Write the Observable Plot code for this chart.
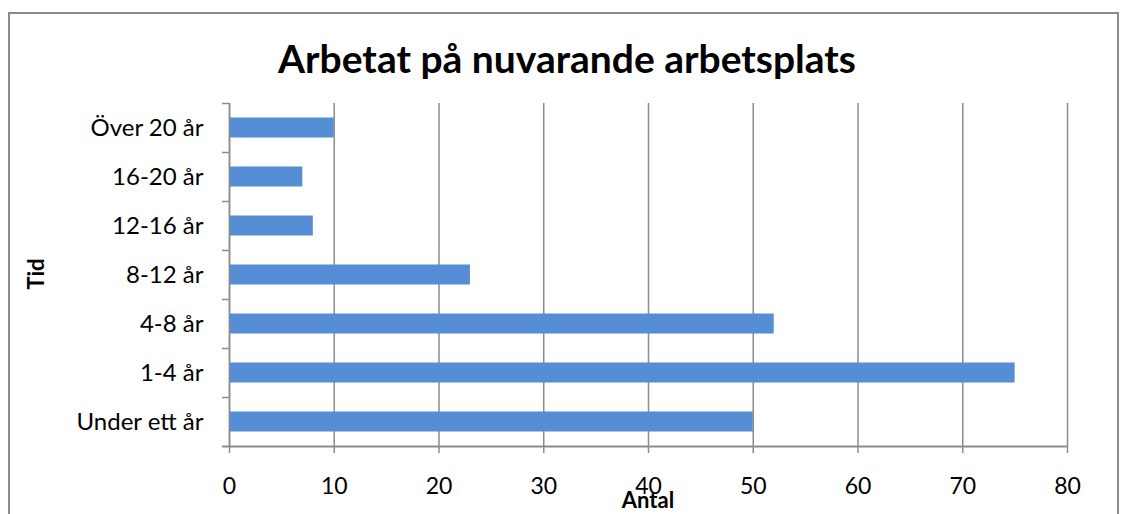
<!DOCTYPE html>
<html>
<head>
<meta charset="utf-8">
<script src="https://cdn.jsdelivr.net/npm/d3@7"></script>
<script src="https://cdn.jsdelivr.net/npm/@observablehq/plot@0.6"></script>
<style>
  html, body { margin: 0; padding: 0; background: #fff; }
  body { width: 1123px; height: 514px; overflow: hidden; position: relative; font-family: Lato, "Open Sans", sans-serif; }
  #frame { position: absolute; left: 8px; top: 12px; width: 1111px; height: 520px; border: 2px solid #8a8a8a; box-sizing: border-box; }
  #title { position: absolute; left: 0; width: 1134px; top: 35px; text-align: center; font-weight: bold; font-size: 39px; color: #000; }
  #ylabel { position: absolute; left: 35px; top: 274px; transform: translate(-50%, -50%) rotate(-90deg); font-weight: bold; font-size: 22px; }
  #xlabel { position: absolute; left: 648px; top: 486px; transform: translateX(-50%); font-weight: bold; font-size: 22px; }
  #chart { position: absolute; left: 0; top: 0; }
</style>
</head>
<body>
<div id="frame"></div>
<div id="chart"></div>
<div id="title">Arbetat på nuvarande arbetsplats</div>
<div id="ylabel">Tid</div>
<div id="xlabel">Antal</div>
<script>
const categories = ["Över 20 år", "16-20 år", "12-16 år", "8-12 år", "4-8 år", "1-4 år", "Under ett år"];
const values = [10, 7, 8, 23, 52, 75, 50];
const xTicks = [0, 10, 20, 30, 40, 50, 60, 70, 80];

const data = categories.map((c, i) => ({category: c, value: values[i]}));
const gray = "#8c8c8c";
const W = 1123, H = 514, mL = 229, mR = 56, mT = 103, mB = 68;
const step = (H - mT - mB) / categories.length;

const chart = Plot.plot({
  width: W,
  height: H,
  marginLeft: mL,
  marginRight: mR,
  marginTop: mT,
  marginBottom: mB,
  style: {fontFamily: "Lato, 'Open Sans', sans-serif", fontSize: "20px", color: "#000", background: "transparent"},
  x: {domain: [0, 80], ticks: xTicks, label: null},
  y: {domain: categories, padding: 0, label: null},
  marks: [
    Plot.gridX(xTicks, {stroke: gray, strokeOpacity: 1, strokeWidth: 1.5}),
    Plot.barX(data, {x: "value", y: "category", fill: "#558ED5", insetTop: 14.5, insetBottom: 14.5}),
    // category boundary ticks on the y axis
    Plot.ruleY(categories, {y: d => d, dy: -step / 2, stroke: gray, strokeWidth: 1.5, insetLeft: -7, insetRight: W - mL - mR}),
    // y axis line
    Plot.ruleX([0], {stroke: gray, strokeWidth: 1.5}),
    // x axis line
    Plot.ruleY(categories.slice(-1), {y: d => d, dy: step / 2, stroke: gray, strokeWidth: 2, insetLeft: -7}),
    Plot.axisX(xTicks, {tickSize: 7, stroke: gray, strokeWidth: 1.5, tickPadding: 24, fontSize: 23, label: null}),
    Plot.axisY(categories, {tickSize: 0, tickPadding: 26, fontSize: 24, label: null})
  ]
});
document.getElementById("chart").appendChild(chart);
</script>
</body>
</html>
